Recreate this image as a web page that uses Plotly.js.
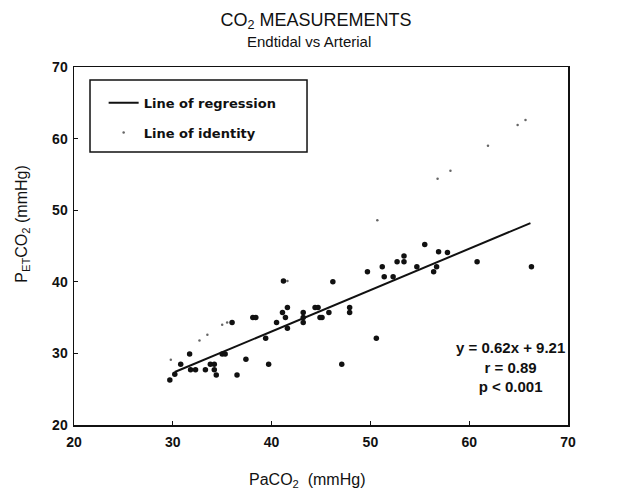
<!DOCTYPE html>
<html>
<head>
<meta charset="utf-8">
<script src="https://cdn.plot.ly/plotly-3.0.1.min.js"></script>
<style>html,body{margin:0;padding:0;background:#fff;}#chart{width:622px;height:493px;}</style>
</head>
<body>
<div id="chart"></div>
<script>
// Measured points: arterial PaCO2 (x) vs end-tidal PETCO2 (y), mmHg
const paCO2 = [29.7, 30.2, 30.8, 31.7, 31.8, 32.3, 33.3, 33.8, 34.2, 34.2, 34.4, 35.0, 35.3, 36.0, 36.5, 37.4,
  38.1, 38.4, 39.4, 39.7, 40.5, 41.2, 41.1, 41.6, 41.4, 41.6, 43.2, 43.2, 43.2, 44.4, 44.7, 44.9, 45.1, 45.8,
  46.2, 47.1, 47.9, 47.9, 49.7, 50.6, 51.2, 51.4, 52.3, 52.7, 53.4, 53.4, 54.7, 55.5, 56.4, 56.7, 56.9, 57.8,
  60.8, 66.3];
const petCO2 = [26.3, 27.1, 28.5, 29.9, 27.7, 27.7, 27.7, 28.5, 28.5, 27.7, 27.0, 29.9, 29.9, 34.3, 27.0, 29.2,
  35.0, 35.0, 32.1, 28.5, 34.3, 40.1, 35.7, 36.4, 35.0, 33.5, 35.7, 35.0, 34.3, 36.4, 36.4, 35.0, 35.0, 35.7,
  40.0, 28.5, 36.4, 35.7, 41.4, 32.1, 42.1, 40.7, 40.7, 42.8, 42.8, 43.6, 42.1, 45.2, 41.4, 42.1, 44.2, 44.1,
  42.8, 42.1];
// Visible dots of the line of identity
const identityX = [29.8, 32.7, 33.5, 35.0, 35.5, 41.6, 50.7, 56.8, 58.1, 61.9, 64.9, 65.7];
const identityY = [29.1, 31.8, 32.6, 34.0, 34.3, 40.1, 48.6, 54.4, 55.5, 59.0, 61.9, 62.6];
// Line of regression end points
const regressionX = [30.2, 66.2];
const regressionY = [27.4, 48.2];
const statsText = ["y = 0.62x + 9.21", "r = 0.89", "p &lt; 0.001"];
const xTicks = [20, 30, 40, 50, 60, 70];
const yTicks = [20, 30, 40, 50, 60, 70];

const helv = "Liberation Sans, Arial, Helvetica, sans-serif";

const traces = [
  {x: regressionX, y: regressionY, mode: "lines", name: "Line of regression",
   line: {color: "#111", width: 2}, legendgroup: "a"},
  {x: identityX, y: identityY, mode: "markers", name: "Line of identity",
   marker: {color: "#666", size: 2.5}, legendgroup: "b"},
  {x: paCO2, y: petCO2, mode: "markers", showlegend: false,
   marker: {color: "#111", size: 5.5}}
];

const axisCommon = {
  range: [20, 70], tickmode: "array", showgrid: false, zeroline: false,
  showline: true, mirror: true, linecolor: "#111", linewidth: 1.5,
  ticks: "inside", ticklen: 4, tickcolor: "#111",
  tickfont: {family: helv, size: 14, color: "#111", weight: "bold"}
};

const layout = {
  width: 622, height: 493,
  margin: {l: 74, r: 54, t: 67, b: 68},
  paper_bgcolor: "#fff", plot_bgcolor: "#fff",
  font: {family: helv, color: "#111"},
  title: {
    text: "CO<sub>2</sub> MEASUREMENTS",
    font: {family: helv, size: 18, color: "#111"},
    x: 0.508, xanchor: "center", yref: "container", y: 0.961, yanchor: "middle"
  },
  xaxis: Object.assign({}, axisCommon, {tickvals: xTicks, ticklabelstandoff: 4}),
  yaxis: Object.assign({}, axisCommon, {tickvals: yTicks, ticklabelstandoff: 2}),
  showlegend: true,
  legend: {
    x: 0.06, y: 0.942, xanchor: "left", yanchor: "top",
    bgcolor: "rgba(0,0,0,0)", borderwidth: 0,
    traceorder: "grouped", tracegroupgap: 10,
    font: {family: "DejaVu Sans, sans-serif", size: 13, color: "#111", weight: "bold"}
  },
  shapes: [
    {type: "rect", xref: "paper", yref: "paper", x0: 0.0324, x1: 0.4717, y0: 0.7626, y1: 0.9637,
     line: {color: "#111", width: 1.5}, fillcolor: "rgba(0,0,0,0)"}
  ],
  annotations: [
    {text: "Endtidal vs Arterial", xref: "paper", yref: "paper", x: 0.4757, y: 1.0726,
     showarrow: false, xanchor: "center", yanchor: "middle",
     font: {family: helv, size: 15, color: "#111"}},
    {text: statsText.join("<br>"), xref: "x", yref: "y", x: 64.2, y: 28.1,
     showarrow: false, align: "center", xanchor: "center", yanchor: "middle",
     font: {family: helv, size: 15, color: "#111", weight: "bold"}},
    {text: "PaCO<sub>2</sub>  (mmHg)", xref: "paper", yref: "paper", x: 0.472, y: -0.154,
     showarrow: false, xanchor: "center", yanchor: "middle",
     font: {family: helv, size: 16, color: "#111"}},
    {text: "P<sub>ET</sub>CO<sub>2</sub> (mmHg)", xref: "paper", yref: "paper", x: -0.105, y: 0.56,
     showarrow: false, textangle: -90, xanchor: "center", yanchor: "middle",
     font: {family: helv, size: 16, color: "#111"}}
  ]
};

Plotly.newPlot("chart", traces, layout, {displayModeBar: false, staticPlot: true});
</script>
</body>
</html>
